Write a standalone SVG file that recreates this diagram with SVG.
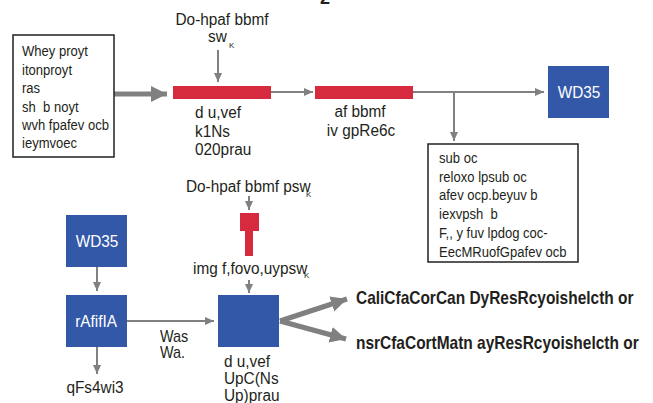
<svg xmlns="http://www.w3.org/2000/svg" width="653" height="403" viewBox="0 0 653 403">
<style>
  text { font-family: "Liberation Sans", Arial, sans-serif; fill: #231f20; font-size: 16px; }
  .bx { font-size: 15px; }
  .w { fill: #ffffff; font-size: 16.5px; }
  .b { font-weight: bold; font-size: 18px; }
  .sub { font-size: 8px; }
  .ln { stroke: #808080; stroke-width: 2; fill: none; }
  .thick { stroke: #808080; stroke-width: 5; fill: none; }
  .red { fill: #d62b3f; }
  .blue { fill: #3358a8; }
  .box { fill: #ffffff; stroke: #231f20; stroke-width: 1.5; }
</style>
<defs>
  <marker id="ah" markerUnits="userSpaceOnUse" markerWidth="10" markerHeight="10" refX="9" refY="5" orient="auto">
    <path d="M0,1 L9,5 L0,9 Z" fill="#808080"/>
  </marker>
  <marker id="ahb" markerUnits="userSpaceOnUse" markerWidth="18" markerHeight="18" refX="16" refY="9" orient="auto">
    <path d="M0,1 L16,9 L0,17 Z" fill="#808080"/>
  </marker>
</defs>
<rect width="653" height="403" fill="#ffffff"/>
<text x="320" y="4" class="b">2</text>

<g id="connectors">
  <line class="thick" x1="114" y1="94" x2="167" y2="94" marker-end="url(#ahb)"/>
  <line class="ln" x1="218" y1="50" x2="218" y2="82" marker-end="url(#ah)"/>
  <line class="ln" x1="271" y1="92" x2="313" y2="92" marker-end="url(#ah)"/>
  <line class="ln" x1="413" y1="92" x2="544" y2="92" marker-end="url(#ah)"/>
  <line class="ln" x1="454" y1="92" x2="454" y2="141" marker-end="url(#ah)"/>
  <line class="ln" x1="97" y1="267" x2="97" y2="291" marker-end="url(#ah)"/>
  <line class="ln" x1="97" y1="347" x2="97" y2="374" marker-end="url(#ah)"/>
  <line class="ln" x1="127" y1="321" x2="214" y2="321" marker-end="url(#ah)"/>
  <line class="ln" x1="249" y1="196" x2="249" y2="210" marker-end="url(#ah)"/>
  <line class="ln" x1="249" y1="280" x2="249" y2="293" marker-end="url(#ah)"/>
  <line class="thick" x1="280" y1="321" x2="347" y2="299" marker-end="url(#ahb)"/>
  <line class="thick" x1="280" y1="321" x2="346" y2="339" marker-end="url(#ahb)"/>
</g>

<g id="inputs">
  <rect class="box" x="13" y="35" width="101" height="122"/>
  <text class="bx" transform="translate(22 56) scale(0.87 1)">Whey proyt</text>
  <text class="bx" transform="translate(22 75) scale(0.87 1)">itonproyt</text>
  <text class="bx" transform="translate(22 93) scale(0.87 1)">ras</text>
  <text class="bx" xml:space="preserve" transform="translate(22 112) scale(0.87 1)">sh  b noyt</text>
  <text class="bx" transform="translate(22 130) scale(0.87 1)">wvh fpafev ocb</text>
  <text class="bx" transform="translate(22 148) scale(0.87 1)">ieymvoec</text>
</g>

<g id="label-top">
  <text text-anchor="middle" transform="translate(222 25) scale(0.96 1)">Do-hpaf bbmf</text>
  <text transform="translate(208 42) scale(0.96 1)">sw</text>
  <text x="229" y="48" class="sub">K</text>
</g>

<g id="bar1">
  <rect class="red" x="173" y="86" width="98" height="13"/>
  <text transform="translate(195 118) scale(0.96 1)">d u,vef</text>
  <text transform="translate(195 137) scale(0.96 1)">k1Ns</text>
  <text transform="translate(195 155) scale(0.96 1)">020prau</text>
</g>

<g id="bar2">
  <rect class="red" x="315" y="86" width="98" height="13"/>
  <text text-anchor="middle" transform="translate(360 117) scale(0.96 1)">af bbmf</text>
  <text text-anchor="middle" transform="translate(361 136) scale(0.96 1)">iv gpRe6c</text>
</g>

<g id="wd35-top">
  <rect class="blue" x="548" y="66" width="61" height="52"/>
  <text class="w" text-anchor="middle" transform="translate(579 98) scale(0.93 1)">WD35</text>
</g>

<g id="outputs">
  <rect class="box" x="428" y="144" width="150" height="118"/>
  <text class="bx" transform="translate(439 163) scale(0.87 1)">sub oc</text>
  <text class="bx" transform="translate(439 182) scale(0.87 1)">reloxo lpsub oc</text>
  <text class="bx" transform="translate(439 200) scale(0.87 1)">afev ocp.beyuv b</text>
  <text class="bx" xml:space="preserve" transform="translate(439 219) scale(0.87 1)">iexvpsh  b</text>
  <text class="bx" transform="translate(439 238) scale(0.87 1)">F,, y fuv lpdog coc-</text>
  <text class="bx" transform="translate(439 257) scale(0.87 1)">EecMRuofGpafev ocb</text>
</g>

<g id="wd35-bottom">
  <rect class="blue" x="66" y="215" width="61" height="52"/>
  <text class="w" text-anchor="middle" transform="translate(97 247) scale(0.93 1)">WD35</text>
</g>

<g id="rafifla">
  <rect class="blue" x="66" y="295" width="61" height="52"/>
  <text class="w" text-anchor="middle" transform="translate(96 327) scale(0.93 1)">rAfifIA</text>
</g>

<g id="qfs">
  <text text-anchor="middle" transform="translate(95 393) scale(0.96 1)">qFs4wi3</text>
</g>

<g id="was">
  <text transform="translate(160 342) scale(0.9 1)">Was</text>
  <text transform="translate(160 358) scale(0.9 1)">Wa.</text>
</g>

<g id="label-mid">
  <text transform="translate(186 192) scale(0.96 1)">Do-hpaf bbmf psw</text>
  <text x="306" y="197" class="sub">K</text>
</g>

<g id="tshape">
  <rect class="red" x="240" y="213" width="19" height="18"/>
  <rect class="red" x="245" y="231" width="8" height="25"/>
</g>

<g id="label-img">
  <text transform="translate(193 274) scale(0.96 1)">img f,fovo,uypsw</text>
  <text x="304" y="278" class="sub">K</text>
</g>

<g id="blue-center">
  <rect class="blue" x="218" y="295" width="61" height="52"/>
  <text transform="translate(224 367) scale(0.96 1)">d u,vef</text>
  <text transform="translate(224 384) scale(0.96 1)">UpC(Ns</text>
  <text transform="translate(224 401) scale(0.96 1)">Up)prau</text>
</g>

<g id="out1">
  <text class="b" transform="translate(356 304) scale(0.86 1)">CaliCfaCorCan DyResRcyoishelcth or</text>
</g>
<g id="out2">
  <text class="b" transform="translate(356 349) scale(0.86 1)">nsrCfaCortMatn ayResRcyoishelcth or</text>
</g>
</svg>
